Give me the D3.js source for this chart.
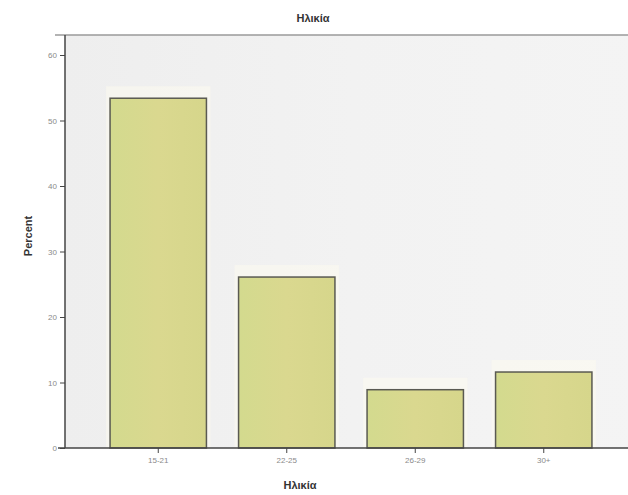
<!DOCTYPE html>
<html>
<head>
<meta charset="utf-8">
<script src="https://cdn.jsdelivr.net/npm/d3@7"></script>
<style>
  body { margin: 0; background: #fff; }
  text { font-family: "Liberation Sans", Arial, sans-serif; }
</style>
</head>
<body>
<div id="chart"></div>
<script>
var categories = ["15-21", "22-25", "26-29", "30+"];
var percents = [53.4, 26.1, 8.9, 11.6];
var yTicks = [0, 10, 20, 30, 40, 50, 60];
var titleText = "Ηλικία";
var xTitle = "Ηλικία";
var yTitle = "Percent";

var w = 628, h = 495;
var plotLeft = 65, plotTop = 35, plotBottom = 448, plotRight = 640;

var svg = d3.select("#chart").append("svg")
    .attr("width", w)
    .attr("height", h);

var defs = svg.append("defs");
var bg = defs.append("linearGradient").attr("id", "bg").attr("x1", 0).attr("y1", 0).attr("x2", 1).attr("y2", 0);
bg.append("stop").attr("offset", "0%").attr("stop-color", "#eeeeee");
bg.append("stop").attr("offset", "50%").attr("stop-color", "#f2f2f2");
bg.append("stop").attr("offset", "100%").attr("stop-color", "#f4f4f4");

var barGrad = defs.append("linearGradient").attr("id", "barFill").attr("x1", 0).attr("y1", 0).attr("x2", 1).attr("y2", 0);
barGrad.append("stop").attr("offset", "0%").attr("stop-color", "#d3da8e");
barGrad.append("stop").attr("offset", "50%").attr("stop-color", "#dad88f");
barGrad.append("stop").attr("offset", "100%").attr("stop-color", "#d6d68b");

var x = d3.scaleBand()
    .domain(categories)
    .range([94, 608])
    .paddingInner(0.25)
    .paddingOuter(0.125);

var y = d3.scaleLinear()
    .domain([0, 60])
    .range([plotBottom, 55]);

// plot background
svg.append("rect")
    .attr("x", plotLeft).attr("y", plotTop)
    .attr("width", plotRight - plotLeft).attr("height", plotBottom - plotTop)
    .attr("fill", "url(#bg)");

// top frame line
svg.append("line")
    .attr("x1", 55).attr("x2", w)
    .attr("y1", plotTop).attr("y2", plotTop)
    .attr("stroke", "#9a9a9a").attr("stroke-width", 1.5);

// faint halo around bars
svg.selectAll("rect.halo")
    .data(percents)
    .enter()
    .append("rect")
    .attr("class", "halo")
    .attr("x", function (d, i) { return x(categories[i]) - 4; })
    .attr("y", function (d) { return y(d) - 12; })
    .attr("width", x.bandwidth() + 8)
    .attr("height", function (d) { return plotBottom - y(d) + 12; })
    .attr("fill", "#fdfcf0")
    .attr("opacity", 0.5);

// bars
svg.selectAll("rect.bar")
    .data(percents)
    .enter()
    .append("rect")
    .attr("class", "bar")
    .attr("x", function (d, i) { return x(categories[i]); })
    .attr("y", function (d) { return y(d); })
    .attr("width", x.bandwidth())
    .attr("height", function (d) { return plotBottom - y(d); })
    .attr("fill", "url(#barFill)")
    .attr("stroke", "#5a5a52")
    .attr("stroke-width", 1.5);

// y axis
var yAxis = svg.append("g")
    .attr("transform", "translate(" + plotLeft + ",0)")
    .call(d3.axisLeft(y).tickValues(yTicks).tickSize(5).tickPadding(3));
yAxis.select(".domain").attr("d", "M0," + plotTop + "V" + plotBottom).attr("stroke", "#444").attr("stroke-width", 1.5);
yAxis.selectAll(".tick line").attr("stroke", "#444");
yAxis.selectAll(".tick text").attr("fill", "#8a8a8a").style("font-size", "8px");

// x axis
var xAxis = svg.append("g")
    .attr("transform", "translate(0," + plotBottom + ")")
    .call(d3.axisBottom(x).tickSize(5).tickPadding(4));
xAxis.select(".domain").attr("d", "M" + 58 + ",0H" + w).attr("stroke", "#444").attr("stroke-width", 1.5);
xAxis.selectAll(".tick line").attr("stroke", "#444");
xAxis.selectAll(".tick text").attr("fill", "#8a8a8a").style("font-size", "8px");

// titles
svg.append("text")
    .attr("x", 313).attr("y", 22)
    .attr("text-anchor", "middle")
    .style("font-size", "11px").style("font-weight", "bold")
    .attr("fill", "#333")
    .text(titleText);

svg.append("text")
    .attr("x", 300).attr("y", 489)
    .attr("text-anchor", "middle")
    .style("font-size", "11px").style("font-weight", "bold")
    .attr("fill", "#333")
    .text(xTitle);

svg.append("text")
    .attr("transform", "translate(32,236) rotate(-90)")
    .attr("text-anchor", "middle")
    .style("font-size", "11px").style("font-weight", "bold")
    .attr("fill", "#333")
    .text(yTitle);
</script>
</body>
</html>
